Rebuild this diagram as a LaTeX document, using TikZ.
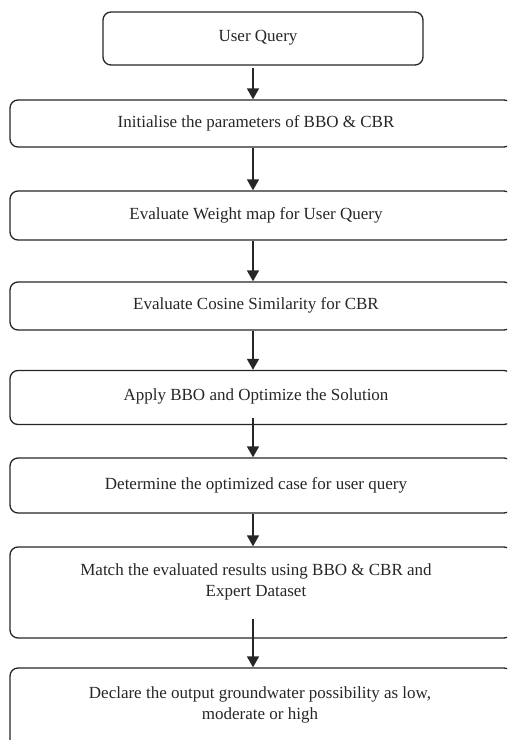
\documentclass[tikz,border=0pt]{standalone}
\usepackage{fontspec}
\setmainfont{Liberation Serif}
\usetikzlibrary{arrows.meta}
\begin{document}
\begin{tikzpicture}[x=1pt,y=-1pt,
  stepbox/.style={draw=black!85,line width=1.3pt,rounded corners=8pt,inner sep=0pt},
  steptext/.style={font=\fontsize{17}{20.5}\selectfont,align=center,text=black!85,inner sep=0pt},
  flow/.style={line width=1.6pt,black!85,-{Triangle[width=12pt,length=11pt]}}]
\useasboundingbox (0,0) rectangle (507,740);
\begin{scope}
\clip (0,0) rectangle (507,740);
% boxes (left edge x=10, running past the right margin)
\node[stepbox,minimum width=320pt,minimum height=53pt] (b1) at (263,38.5) {};
\node[stepbox,minimum width=502pt,minimum height=47pt] (b2) at (261,123.5) {};
\node[stepbox,minimum width=502pt,minimum height=49pt] (b3) at (261,215.5) {};
\node[stepbox,minimum width=502pt,minimum height=48pt] (b4) at (261,306) {};
\node[stepbox,minimum width=502pt,minimum height=54pt] (b5) at (261,397.5) {};
\node[stepbox,minimum width=502pt,minimum height=55pt] (b6) at (261,485.5) {};
\node[stepbox,minimum width=502pt,minimum height=91pt] (b7) at (261,592.5) {};
\node[stepbox,minimum width=502pt,minimum height=100pt] (b8) at (261,718) {};
\end{scope}
% texts
\node[steptext] (t1) at (258,38) {User Query};
\node[steptext] (t2) at (256,123) {Initialise the parameters of BBO \& CBR};
\node[steptext] (t3) at (256,215) {Evaluate Weight map for User Query};
\node[steptext] (t4) at (256,305) {Evaluate Cosine Similarity for CBR};
\node[steptext] (t5) at (256,396) {Apply BBO and Optimize the Solution};
\node[steptext] (t6) at (256,485) {Determine the optimized case for user query};
\node[steptext] (t7) at (256,582) {Match the evaluated results using BBO \& CBR and\\Expert Dataset};
\node[steptext] (t8) at (260,705) {Declare the output groundwater possibility as low,\\moderate or high};
% connectors along x=253
\coordinate (ax) at (253,0);
\draw[flow] (b1.south -| ax) ++(0,2) -- (b2.north -| ax);
\draw[flow] (b2.south -| ax) -- (b3.north -| ax);
\draw[flow] (b3.south -| ax) -- (b4.north -| ax);
\draw[flow] (b4.south -| ax) -- (b5.north -| ax);
\draw[flow] (b5.south -| ax) ++(0,-7) -- (b6.north -| ax);
\draw[flow] (b6.south -| ax) -- (b7.north -| ax);
\draw[flow] (b7.south -| ax) ++(0,-20) -- (b8.north -| ax);
\end{tikzpicture}
\end{document}
